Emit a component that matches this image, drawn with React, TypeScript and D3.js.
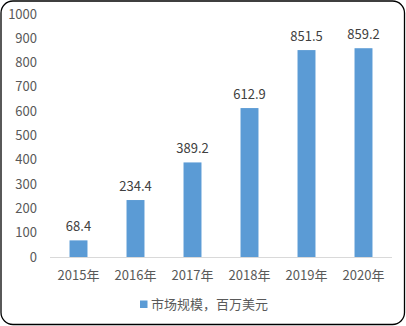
import React from "react";
import * as d3 from "d3";

const categories = ["2015年", "2016年", "2017年", "2018年", "2019年", "2020年"];
const values = [68.4, 234.4, 389.2, 612.9, 851.5, 859.2];
const yTicks = [0, 100, 200, 300, 400, 500, 600, 700, 800, 900, 1000];
const legendLabel = "市场规模，百万美元";

export default function App() {
  const W = 406, H = 326;
  const left = 50, right = 392, top = 14, bottom = 257;
  const x = d3.scaleBand<string>().domain(categories).range([left, right]).paddingInner(0.685).paddingOuter(0.3425);
  const y = d3.scaleLinear().domain([0, 1000]).range([bottom, top]);
  const font = "'Microsoft YaHei', 'Noto Sans CJK SC', 'Noto Sans', sans-serif";
  return (
    <svg width={W} height={H} style={{ position: "absolute", left: 0, top: 0 }} fontFamily={font}>
      <rect x={1} y={1} width={W - 2.5} height={H - 2.5} rx={12} ry={12} fill="#fff" stroke="#000" strokeWidth={1.3} />
      {yTicks.map((t) => (
        <text key={t} x={37} y={y(t)} dy="0.35em" textAnchor="end" fontSize={13} fill="#595959">{t}</text>
      ))}
      <line x1={left} x2={right} y1={y(0) + 0.5} y2={y(0) + 0.5} stroke="#d9d9d9" strokeWidth={1} />
      {categories.map((c, i) => (
        <g key={c}>
          <rect x={x(c)} y={y(values[i])} width={x.bandwidth()} height={y(0) - y(values[i])} fill="#5b9bd5" />
          <text x={(x(c) ?? 0) + x.bandwidth() / 2} y={y(values[i]) - 9} textAnchor="middle" fontSize={13} fill="#404040">{values[i]}</text>
          <text x={(x(c) ?? 0) + x.bandwidth() / 2} y={275} dy="0.35em" textAnchor="middle" fontSize={13} fill="#595959">{c}</text>
        </g>
      ))}
      <rect x={140} y={300.5} width={7.5} height={7.5} fill="#5b9bd5" />
      <text x={151} y={304.5} dy="0.35em" fontSize={13} fill="#595959">{legendLabel}</text>
    </svg>
  );
}
